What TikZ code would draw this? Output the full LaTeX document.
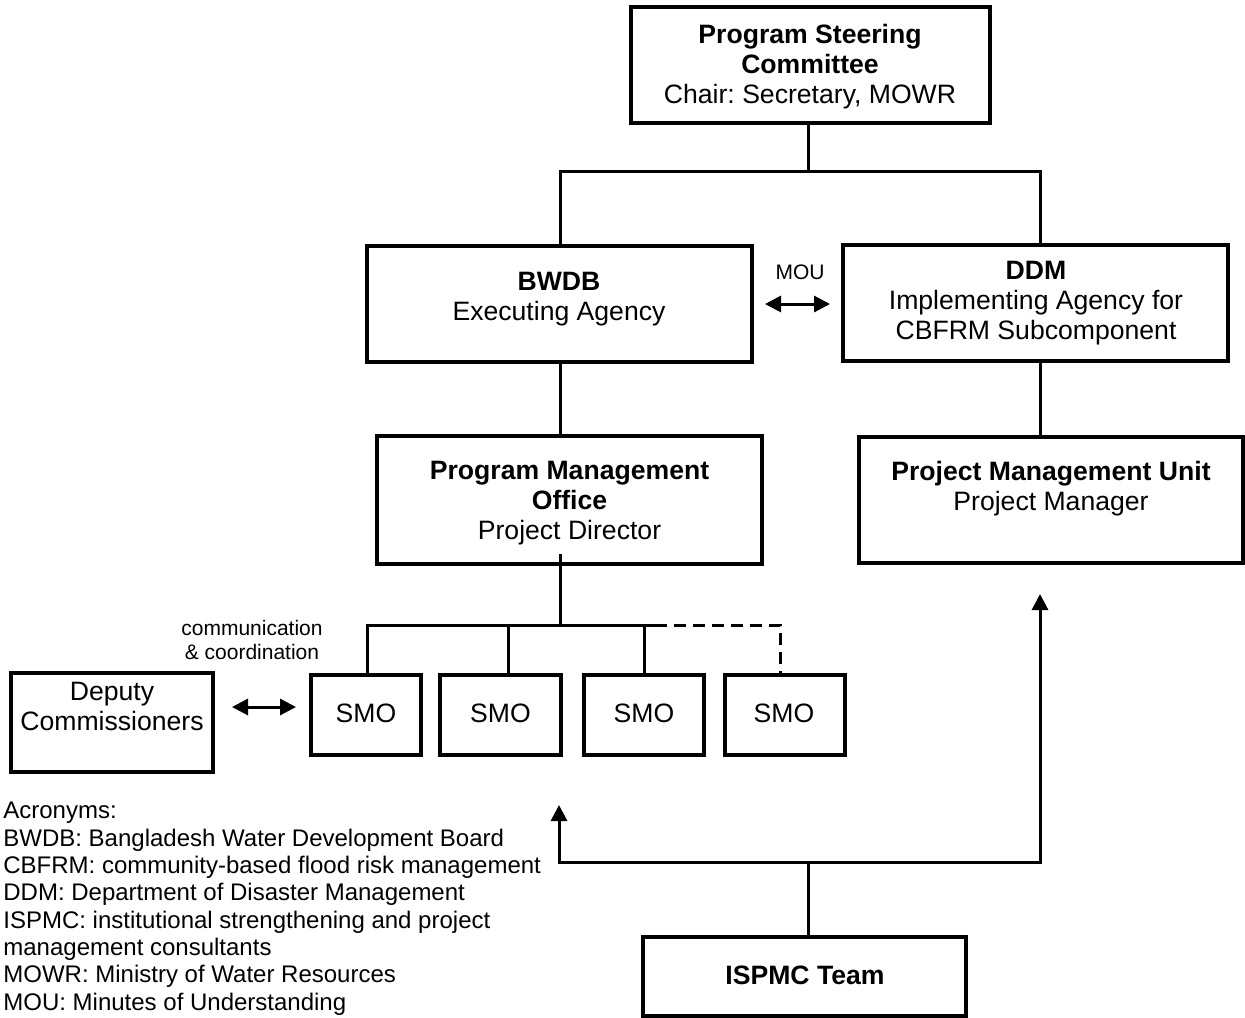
\documentclass[tikz,border=0pt]{standalone}
\usepackage{fontspec}
\setmainfont{Liberation Sans}
\usetikzlibrary{arrows.meta,calc}
\frenchspacing
\begin{document}
\begin{tikzpicture}[x=0.5pt,y=-0.5pt,
  box/.style={draw, line width=2pt, inner sep=0pt},
  txt/.style={inner sep=0pt, align=center, font=\fontsize{13.3}{15}\selectfont},
  small/.style={inner sep=0pt, align=center, font=\fontsize{10.5}{12}\selectfont},
  conn/.style={line width=1.5pt},
  tip/.style={line width=1.5pt, -{Triangle[length=8pt,width=8pt]}},
  dbl/.style={line width=1.5pt, {Triangle[length=8pt,width=8pt]}-{Triangle[length=8pt,width=8pt]}},
  dashline/.style={line width=1.5pt, dash pattern=on 6pt off 3.5pt},
]
\useasboundingbox (0,0) rectangle (1245,1017);

% boxes
\node[box, minimum width=179.5pt, minimum height=58pt] (psc) at (810.5,65) {};
\node[box, minimum width=192.5pt, minimum height=58pt] (bwdb) at (559.5,304) {};
\node[box, minimum width=192.5pt, minimum height=58pt] (ddm) at (1035.5,303) {};
\node[box, minimum width=192.5pt, minimum height=64pt] (pmo) at (569.5,500) {};
\node[box, minimum width=192pt, minimum height=63pt] (pmu) at (1051,500) {};
\node[box, minimum width=101pt, minimum height=49.5pt] (dc) at (112,722.5) {};
\node[box, minimum width=55pt, minimum height=40pt] (smo1) at (366,715) {};
\node[box, minimum width=60.5pt, minimum height=40pt] (smo2) at (500.5,715) {};
\node[box, minimum width=60pt, minimum height=40pt] (smo3) at (644,715) {};
\node[box, minimum width=60pt, minimum height=40pt] (smo4) at (785,715) {};
\node[box, minimum width=161.5pt, minimum height=39.5pt] (isp) at (804.5,976.5) {};

% texts
\node[txt] (pscT) at (810,67) {\textbf{Program Steering}\\\textbf{Committee}\\Chair: Secretary, MOWR};
\node[txt] (bwdbT) at (559,299) {\textbf{BWDB}\\Executing Agency};
\node[txt] (ddmT) at (1036,303) {\textbf{DDM}\\Implementing Agency for\\CBFRM Subcomponent};
\node[txt] (pmoT) at (569.5,503) {\textbf{Program Management}\\\textbf{Office}\\Project Director};
\node[txt] (pmuT) at (1051,489) {\textbf{Project Management Unit}\\Project Manager};
\node[txt] (dcT) at (112,706) {Deputy\\Commissioners};
\node[txt] (smo1T) at (366,713) {SMO};
\node[txt] (smo2T) at (500.5,713) {SMO};
\node[txt] (smo3T) at (644,713) {SMO};
\node[txt] (smo4T) at (784,713) {SMO};
\node[txt] (ispT) at (805,975) {\textbf{ISPMC Team}};
\node[small] (mou) at (800,272) {MOU};
\node[small] (cc) at (252,640) {communication\\\& coordination};

\node[inner sep=0pt, align=left, anchor=north west, font=\fontsize{12}{13.65}\selectfont] (acr) at (3,802)
 {Acronyms:\\
  BWDB: Bangladesh Water Development Board\\
  CBFRM: community-based flood risk management\\
  DDM: Department of Disaster Management\\
  ISPMC: institutional strengthening and project\\
  management consultants\\
  MOWR: Ministry of Water Resources\\
  MOU: Minutes of Understanding};

% top tree
\coordinate (t1) at (808,171);
\coordinate (tl) at (560,171);
\coordinate (tr) at (1040,171);
\draw[conn] (t1 |- psc.south) -- (t1);
\draw[conn] (tl |- bwdb.north) -- (tl) -- (tr) -- (tr |- ddm.north);
\draw[conn] (tl |- bwdb.south) -- (tl |- pmo.north);
\draw[conn] (tr |- ddm.south) -- (tr |- pmu.north);

% MOU arrow
\draw[dbl, shorten <=5.5pt, shorten >=5.5pt] (bwdb.east) -- (bwdb.east -| ddm.west);

% SMO bus
\coordinate (b0) at (560,625);
\coordinate (b1) at (367,625);
\coordinate (b2) at (508,625);
\coordinate (b3) at (644,625);
\coordinate (b4s) at (655,625);
\coordinate (b4) at (780,625);
\draw[conn] ($(b0 |- pmo.south)+(0,-12)$) -- (b0);
\draw[conn] (b1 |- smo1.north) -- (b1) -- (b4s);
\draw[conn] (b2) -- (b2 |- smo2.north);
\draw[conn] (b3) -- (b3 |- smo3.north);
\draw[dashline] (b4s) -- (b4) -- (b4 |- smo4.north);

% DC arrow
\coordinate (ca) at (0,707);
\draw[dbl, shorten <=8.5pt, shorten >=6.5pt] (dc.east |- ca) -- (smo1.west |- ca);

% ISPMC arrows
\coordinate (jn) at (808,862);
\coordinate (la) at (559,805);
\coordinate (ra) at (1040,594);
\draw[conn] (jn |- isp.north) -- (jn);
\draw[tip] (jn) -| (la);
\draw[tip] (jn) -| (ra);
\end{tikzpicture}
\end{document}
